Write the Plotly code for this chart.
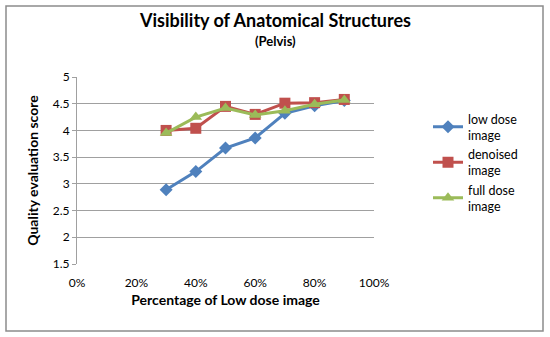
import plotly.graph_objects as go

x_pct = [0.3, 0.4, 0.5, 0.6, 0.7, 0.8, 0.9]
low_dose = [2.89, 3.23, 3.67, 3.86, 4.32, 4.46, 4.56]
denoised = [4.00, 4.04, 4.45, 4.30, 4.51, 4.52, 4.58]
full_dose = [3.95, 4.25, 4.42, 4.29, 4.37, 4.49, 4.57]

series_names = ["low dose<br>image", "denoised<br>image", "full dose<br>image"]
colors = ["#4F81BD", "#C0504D", "#9BBB59"]
symbols = ["diamond", "square", "triangle-up"]
sizes = [10, 11, 11]

FONT = "Lato, 'Open Sans', sans-serif"

fig = go.Figure()
for name, ys, c, s, sz in zip(series_names, [low_dose, denoised, full_dose], colors, symbols, sizes):
    fig.add_trace(go.Scatter(
        x=x_pct, y=ys, name=name, mode="lines+markers",
        line=dict(color=c, width=3),
        marker=dict(symbol=s, size=sz, color=c),
    ))

L, R, T, B = 77, 374, 77, 264
W, H = 550, 337
pw, ph = R - L, B - T

def px(xp):
    return (xp - L) / pw

def py(yp):
    return (B - yp) / ph

fig.update_layout(
    width=W, height=H,
    margin=dict(l=L, r=W - R, t=T, b=H - B),
    paper_bgcolor="white", plot_bgcolor="white",
    font=dict(family=FONT, size=12, color="#000000"),
    showlegend=True,
    legend=dict(
        x=px(428), y=py(104), xanchor="left", yanchor="top",
        font=dict(family=FONT, size=12.5, color="#000000"),
        itemwidth=30, tracegroupgap=0,
        bgcolor="rgba(0,0,0,0)",
    ),
    xaxis=dict(
        range=[0, 1], dtick=0.2, tick0=0, tickformat=".0%",
        showgrid=False, zeroline=False, showline=False,
        ticks="", ticklabelstandoff=10,
        tickfont=dict(family=FONT, size=12, color="#000000"),
        title=dict(text="<b>Percentage of Low dose image</b>", font=dict(family=FONT, size=14), standoff=6),
        fixedrange=True,
    ),
    yaxis=dict(
        range=[1.5, 5], dtick=0.5, tick0=1.5,
        showgrid=True, gridcolor="#A0A0A0", gridwidth=1,
        zeroline=False, showline=True, linecolor="#A0A0A0", linewidth=1,
        ticks="outside", ticklen=4, tickcolor="#A0A0A0",
        tickfont=dict(family=FONT, size=12, color="#000000"),
        title=dict(text="<b>Quality evaluation score</b>", font=dict(family=FONT, size=14), standoff=10),
        fixedrange=True,
    ),
    annotations=[
        dict(text="<b>Visibility of Anatomical Structures</b>", x=px(275), y=py(20),
             xref="paper", yref="paper", showarrow=False, xanchor="center", yanchor="middle",
             font=dict(family=FONT, size=18, color="#000000")),
        dict(text="<b>(Pelvis)</b>", x=px(275), y=py(41),
             xref="paper", yref="paper", showarrow=False, xanchor="center", yanchor="middle",
             font=dict(family=FONT, size=13, color="#000000")),
    ],
    shapes=[
        dict(type="rect", xref="paper", yref="paper",
             x0=px(6), x1=px(543), y0=py(6), y1=py(331),
             line=dict(color="#8C8C8C", width=1.5), layer="below"),
    ],
)

fig.write_html("out.html", config={"displayModeBar": False},
               post_script="document.body.style.margin='0';")
